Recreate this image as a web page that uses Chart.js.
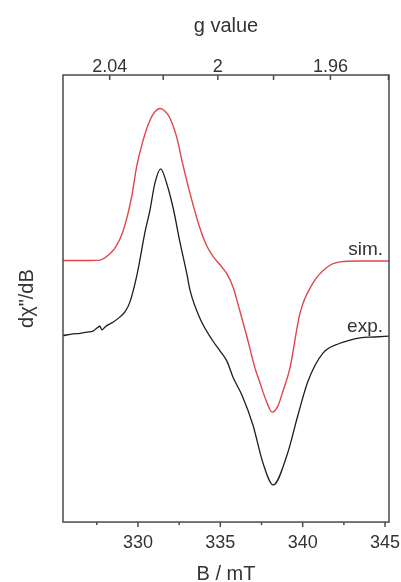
<!DOCTYPE html>
<html>
<head>
<meta charset="utf-8">
<script src="https://cdn.jsdelivr.net/npm/chart.js@4"></script>
<style>
  html, body { margin: 0; background: #fff; }
  canvas { display: block; }
</style>
</head>
<body>
<canvas id="epr" width="401" height="582"></canvas>
<script>
// magnetic field (mT) and derivative intensity (arb. units)
const fieldSim = [325.45, 327.09, 327.69, 328.3, 328.66, 329.09, 329.62, 329.92, 330.32, 330.73,
  331.03, 331.34, 331.64, 331.94, 332.35, 332.73, 333.22, 333.76, 334.19, 334.55,
  335.1, 335.4, 335.77, 336.19, 336.62, 337.1, 337.41, 337.77, 338.15, 338.5,
  338.82, 339.23, 339.84, 340.63, 341.48, 342.26, 343.48, 345.24]
const simSignal = [58.5, 58.5, 58.6, 60.0, 61.6, 65.0, 72.8, 79.5, 85.5, 89.9,
  91.8, 92.5, 91.9, 90.4, 86.1, 79.9, 72.7, 65.8, 61.7, 59.5,
  57.0, 55.5, 52.6, 47.2, 41.4, 34.5, 31.1, 27.3, 24.6, 26.0,
  29.5, 34.5, 46.8, 53.5, 57.0, 58.2, 58.4, 58.4]

const fieldExp = [325.45, 326.05, 326.48, 326.9, 327.27, 327.51, 327.69, 327.81, 327.99, 328.18,
  328.48, 328.91, 329.21, 329.51, 329.94, 330.43, 330.73, 331.03, 331.38, 331.74,
  332.14, 332.55, 332.98, 333.16, 333.76, 334.55, 334.98, 335.4, 335.77, 336.31,
  336.98, 337.59, 338.21, 339.05, 339.71, 340.32, 341.23, 342.26, 342.87, 343.48,
  344.39, 345.24]
const expSignal = [41.7, 42.1, 42.2, 42.5, 42.7, 43.4, 43.8, 43.0, 43.6, 44.1,
  44.7, 45.9, 47.0, 49.2, 55.3, 64.9, 69.8, 75.8, 79.0, 75.8,
  70.2, 62.6, 55.3, 51.9, 45.6, 40.5, 38.3, 36.0, 32.4, 28.4,
  21.7, 13.2, 8.3, 15.0, 23.9, 31.5, 37.8, 40.0, 40.7, 41.2,
  41.4, 41.6]

const seriesNames = ["sim.", "exp."]

const fieldTicks = [327.5, 330, 332.5, 335, 337.5, 340, 342.5, 345]
const fieldLabeled = [330, 335, 340, 345]
const gTicks = [2.04, 2.02, 2.00, 1.98, 1.96, 1.94]
const gLabeled = [2.04, 2.00, 1.96]

const H_NU_OVER_MU_B = 669.7   // mT, so that B = H_NU_OVER_MU_B / g

const FONT = "'Liberation Sans', Arial, sans-serif"
const TEXT = "#333"
const FRAME = "#4a4a4a"

const toPoints = (xs, ys) => xs.map((x, i) => ({ x, y: ys[i] }))

const frameAndTicks = {
  id: "frameAndTicks",
  afterDatasetsDraw(chart) {
    const { ctx, chartArea: a, scales } = chart
    const line = (x1, y1, x2, y2) => {
      ctx.beginPath(); ctx.moveTo(x1, y1); ctx.lineTo(x2, y2); ctx.stroke()
    }
    ctx.save()
    ctx.strokeStyle = FRAME
    ctx.lineWidth = 1.5
    ctx.strokeRect(a.left, a.top, a.width, a.height)

    // bottom ticks outward, top (g value) ticks inward
    scales.x.ticks.forEach(t => {
      const px = scales.x.getPixelForValue(t.value)
      line(px, a.bottom, px, a.bottom + (t.label ? 5 : 3))
    })
    scales.x2.ticks.forEach(t => {
      const px = scales.x2.getPixelForValue(t.value)
      line(px, a.top, px, a.top + 5)
    })

    // curve names just above the right end of each trace
    ctx.fillStyle = TEXT
    ctx.font = `19px ${FONT}`
    ctx.textAlign = "right"
    ctx.textBaseline = "alphabetic"
    const lift = [6, 4]
    chart.data.datasets.forEach((ds, i) => {
      const last = ds.data[ds.data.length - 1]
      ctx.fillText(ds.label, a.right - 6, scales.y.getPixelForValue(last.y) - lift[i])
    })
    ctx.restore()
  }
}

new Chart(document.getElementById("epr"), {
  type: "line",
  data: {
    datasets: [
      {
        label: seriesNames[0],
        data: toPoints(fieldSim, simSignal),
        borderColor: "#e0464b",
        borderWidth: 1.4,
        pointRadius: 0,
        cubicInterpolationMode: "monotone"
      },
      {
        label: seriesNames[1],
        data: toPoints(fieldExp, expSignal),
        borderColor: "#1e1e1e",
        borderWidth: 1.3,
        pointRadius: 0,
        cubicInterpolationMode: "monotone"
      }
    ]
  },
  options: {
    responsive: false,
    animation: false,
    devicePixelRatio: 1,
    layout: { padding: { left: 0, right: 12, top: 0, bottom: 0 } },
    plugins: { legend: { display: false }, tooltip: { enabled: false } },
    scales: {
      x: {
        type: "linear",
        position: "bottom",
        min: 325.45,
        max: 345.24,
        afterBuildTicks: s => { s.ticks = fieldTicks.map(value => ({ value })) },
        grid: { display: false, drawTicks: false },
        border: { display: false },
        ticks: {
          autoSkip: false,
          maxRotation: 0,
          padding: 0,
          color: TEXT,
          font: { family: FONT, size: 18, lineHeight: 2.33 },
          callback: v => fieldLabeled.includes(v) ? String(v) : ""
        },
        title: {
          display: true,
          text: "B / mT",
          color: TEXT,
          font: { family: FONT, size: 20, lineHeight: 0.8 },
          padding: { top: 2, bottom: 0 }
        }
      },
      x2: {
        type: "linear",
        position: "top",
        min: 325.45,
        max: 345.24,
        afterBuildTicks: s => {
          s.ticks = gTicks.map(g => ({ value: H_NU_OVER_MU_B / g, g }))
        },
        grid: { display: false, drawTicks: false },
        border: { display: false },
        ticks: {
          autoSkip: false,
          maxRotation: 0,
          padding: 0,
          color: TEXT,
          font: { family: FONT, size: 18, lineHeight: 0.89 },
          callback: (v, i, ticks) => {
            const g = ticks[i].g
            return gLabeled.includes(g) ? String(g) : ""
          }
        },
        title: {
          display: true,
          text: "g value",
          color: TEXT,
          font: { family: FONT, size: 20, lineHeight: 0.8 },
          padding: { top: 18, bottom: 25 }
        }
      },
      y: {
        min: 0,
        max: 100,
        grid: { display: false, drawTicks: false },
        border: { display: false },
        ticks: { display: false },
        title: {
          display: true,
          text: "dχ\"/dB",
          color: TEXT,
          font: { family: FONT, size: 20, lineHeight: 1 },
          padding: { top: 17, bottom: 26 }
        }
      }
    }
  },
  plugins: [frameAndTicks]
})
</script>
</body>
</html>
